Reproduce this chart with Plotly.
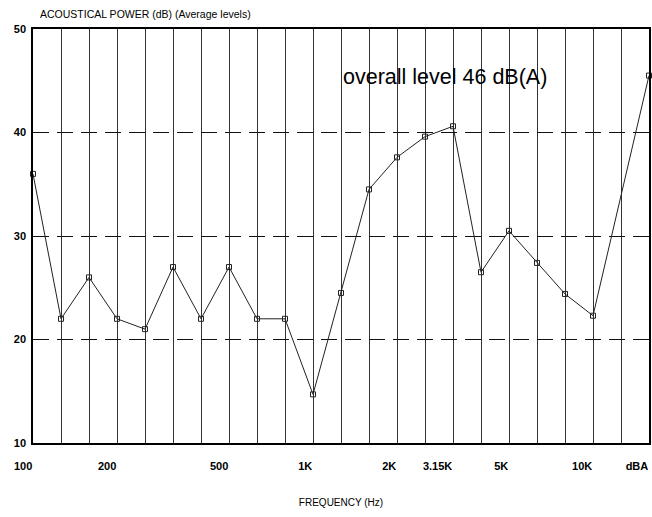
import plotly.graph_objects as go

# Third-octave band centres (plus overall dBA column)
bands = ["100", "125", "160", "200", "250", "315", "400", "500", "630", "800",
         "1K", "1.25K", "1.6K", "2K", "2.5K", "3.15K", "4K", "5K", "6.3K", "8K",
         "10K", "12.5K", "dBA"]
# Average acoustical power levels (dB); 12.5K has no reading
levels = [36, 22, 26, 22, 21, 27, 22, 27, 22, 22,
          14.7, 24.5, 34.5, 37.6, 39.6, 40.6, 26.5, 30.5, 27.4, 24.4,
          22.3, None, 45.5]
# Labels shown under the axis
shown_labels = {"100", "200", "500", "1K", "2K", "3.15K", "5K", "10K", "dBA"}
tick_text = [b if b in shown_labels else "" for b in bands]
y_ticks = [10, 20, 30, 40, 50]

FONT = "Liberation Sans, Arial, sans-serif"

fig = go.Figure()
fig.add_trace(go.Scatter(
    x=bands, y=levels, mode="lines+markers", connectgaps=True,
    line=dict(color="#222", width=1),
    marker=dict(symbol="square-open", size=5, color="#222", line=dict(width=1)),
    cliponaxis=False, showlegend=False,
))

fig.update_layout(
    width=652, height=517,
    margin=dict(l=33, r=1, t=29, b=74),
    paper_bgcolor="white", plot_bgcolor="white",
    font=dict(family=FONT, color="black"),
    xaxis=dict(
        type="category", range=[0, 22],
        tickmode="array", tickvals=bands, ticktext=tick_text,
        ticklabelposition="outside left", ticklabelstandoff=12,
        tickfont=dict(size=11, family=FONT, weight="bold"),
        showgrid=True, gridcolor="#333", gridwidth=1,
        showline=True, linecolor="black", linewidth=1.5, mirror=True,
        ticks="", ticklen=0, zeroline=False,
        title=dict(text="FREQUENCY (Hz)", font=dict(size=10), standoff=28),
    ),
    yaxis=dict(
        range=[10, 50], tickmode="array", tickvals=y_ticks,
        tickfont=dict(size=11, family=FONT, weight="bold"),
        showgrid=True, gridcolor="#111", gridwidth=1.3, griddash="16px,8px",
        showline=True, linecolor="black", linewidth=1.5, mirror=True,
        ticks="", zeroline=False, ticklabelstandoff=3,
    ),
)

fig.add_annotation(
    text="ACOUSTICAL POWER (dB) (Average levels)", xref="paper", yref="paper",
    x=0.008, y=1.0, yshift=15, xanchor="left", yanchor="middle",
    showarrow=False, font=dict(size=10.5, family=FONT),
)
fig.add_annotation(
    text="overall level 46 dB(A)", xref="paper", yref="paper",
    x=0.5, y=0.885, xanchor="left", yanchor="middle",
    showarrow=False, font=dict(size=21.5, family=FONT),
)

fig.write_html("out.html")
